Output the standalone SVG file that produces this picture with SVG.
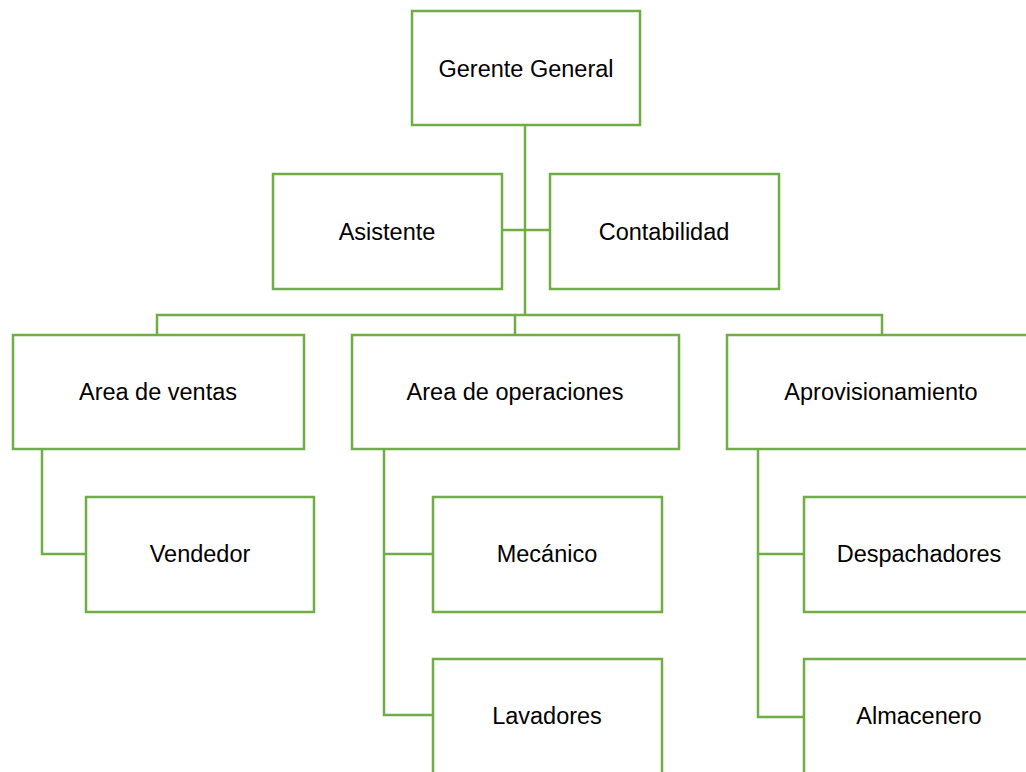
<svg xmlns="http://www.w3.org/2000/svg" width="1026" height="772" viewBox="0 0 1026 772">
<style>
.box{fill:#fff;stroke:#70AD47;stroke-width:2.5}
.ln{fill:none;stroke:#70AD47;stroke-width:2.5}
.t{font-family:"Liberation Sans",Arial,sans-serif;font-size:23.5px;fill:#000;text-anchor:middle}
</style>
<rect width="1026" height="772" fill="#fff"/>
<g id="connectors">
<path class="ln" d="M525,125 V315"/>
<path class="ln" d="M502,230 H550"/>
<path class="ln" d="M157,335 V315 H882 V335"/>
<path class="ln" d="M515,315 V335"/>
<path class="ln" d="M42,449 V554 H86"/>
<path class="ln" d="M384,449 V715 H433 M384,554 H433"/>
<path class="ln" d="M758,449 V717 H804 M758,554 H804"/>
</g>
<g id="gerente"><rect class="box" x="412" y="11" width="228" height="114"/><text class="t" x="526" y="77">Gerente General</text></g>
<g id="asistente"><rect class="box" x="273" y="174" width="229" height="115"/><text class="t" x="387" y="240">Asistente</text></g>
<g id="contabilidad"><rect class="box" x="550" y="174" width="229" height="115"/><text class="t" x="664" y="240">Contabilidad</text></g>
<g id="ventas"><rect class="box" x="13" y="335" width="291" height="114"/><text class="t" x="158" y="400">Area de ventas</text></g>
<g id="operaciones"><rect class="box" x="352" y="335" width="327" height="114"/><text class="t" x="515" y="400">Area de operaciones</text></g>
<g id="aprovisionamiento"><rect class="box" x="727" y="335" width="320" height="114"/><text class="t" x="881" y="400">Aprovisionamiento</text></g>
<g id="vendedor"><rect class="box" x="86" y="497" width="228" height="115"/><text class="t" x="200" y="562">Vendedor</text></g>
<g id="mecanico"><rect class="box" x="433" y="497" width="229" height="115"/><text class="t" x="547" y="562">Mecánico</text></g>
<g id="lavadores"><rect class="box" x="433" y="659" width="229" height="120"/><text class="t" x="547" y="724">Lavadores</text></g>
<g id="despachadores"><rect class="box" x="804" y="497" width="240" height="115"/><text class="t" x="919" y="562">Despachadores</text></g>
<g id="almacenero"><rect class="box" x="804" y="659" width="240" height="120"/><text class="t" x="919" y="724">Almacenero</text></g>
</svg>
